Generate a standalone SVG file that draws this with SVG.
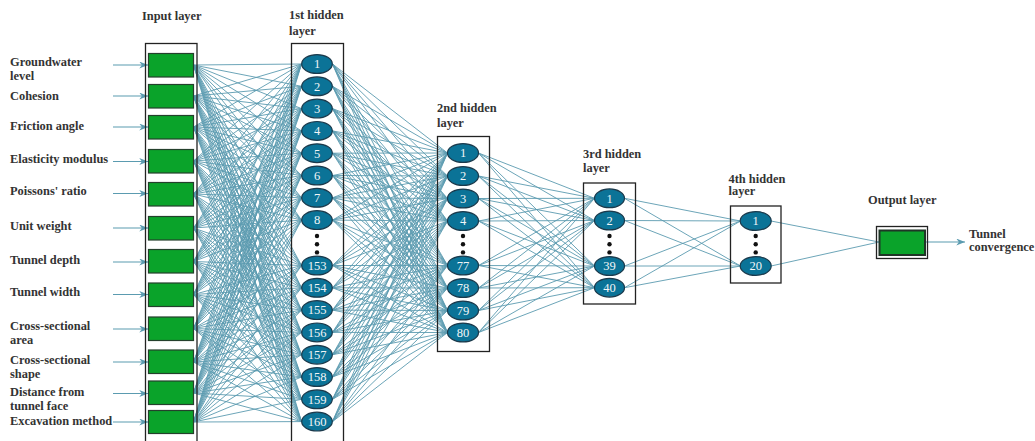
<svg xmlns="http://www.w3.org/2000/svg" width="1035" height="441" viewBox="0 0 1035 441">
  <style>
    .lbl { font-family: "Liberation Serif", "Times New Roman", serif; font-weight: bold; font-size: 12.4px; fill: #333; }
    .num { font-family: "Liberation Serif", "Times New Roman", serif; font-size: 12.5px; fill: #f2f6f8; text-anchor: middle; }
    .box { fill: none; stroke: #222; stroke-width: 1.3; }
    .inp { fill: #0aa32a; stroke: #24402c; stroke-width: 1.2; }
    .neuron { fill: #0b7397; stroke: #1b3a4c; stroke-width: 1.2; }
    .dot { fill: #111; }
    .edge { fill: none; stroke: #5b9bb0; stroke-width: 0.9; }
    .feed { fill: none; stroke: #5b9bb0; stroke-width: 1.2; marker-end: url(#head); }
  </style>
  <defs>
    <marker id="head" viewBox="0 0 10 8" refX="10" refY="4" markerWidth="9" markerHeight="7" markerUnits="userSpaceOnUse" orient="auto">
      <path d="M0 0L10 4L0 8L3 4Z" fill="#5b9bb0"/>
    </marker>
  </defs>
  <rect width="1035" height="441" fill="#fff"/>

  <!-- connections -->
  <g id="connectors">
    <!-- input layer -> 1st hidden layer -->
    <path class="edge" d="M193.5 65L301.5 64M193.5 65L301.5 86.3M193.5 65L301.5 108.6M193.5 65L301.5 130.9M193.5 65L301.5 153.2M193.5 65L301.5 175.5M193.5 65L301.5 197.8M193.5 65L301.5 220.1M193.5 65L301.5 265.5M193.5 65L301.5 287.8M193.5 65L301.5 310.1M193.5 65L301.5 332.4M193.5 65L301.5 354.7M193.5 65L301.5 377M193.5 65L301.5 399.3M193.5 65L301.5 421.6"/>
    <path class="edge" d="M193.5 96L301.5 64M193.5 96L301.5 86.3M193.5 96L301.5 108.6M193.5 96L301.5 130.9M193.5 96L301.5 153.2M193.5 96L301.5 175.5M193.5 96L301.5 197.8M193.5 96L301.5 220.1M193.5 96L301.5 265.5M193.5 96L301.5 287.8M193.5 96L301.5 310.1M193.5 96L301.5 332.4M193.5 96L301.5 354.7M193.5 96L301.5 377M193.5 96L301.5 399.3M193.5 96L301.5 421.6"/>
    <path class="edge" d="M193.5 127L301.5 64M193.5 127L301.5 86.3M193.5 127L301.5 108.6M193.5 127L301.5 130.9M193.5 127L301.5 153.2M193.5 127L301.5 175.5M193.5 127L301.5 197.8M193.5 127L301.5 220.1M193.5 127L301.5 265.5M193.5 127L301.5 287.8M193.5 127L301.5 310.1M193.5 127L301.5 332.4M193.5 127L301.5 354.7M193.5 127L301.5 377M193.5 127L301.5 399.3M193.5 127L301.5 421.6"/>
    <path class="edge" d="M193.5 161L301.5 64M193.5 161L301.5 86.3M193.5 161L301.5 108.6M193.5 161L301.5 130.9M193.5 161L301.5 153.2M193.5 161L301.5 175.5M193.5 161L301.5 197.8M193.5 161L301.5 220.1M193.5 161L301.5 265.5M193.5 161L301.5 287.8M193.5 161L301.5 310.1M193.5 161L301.5 332.4M193.5 161L301.5 354.7M193.5 161L301.5 377M193.5 161L301.5 399.3M193.5 161L301.5 421.6"/>
    <path class="edge" d="M193.5 194L301.5 64M193.5 194L301.5 86.3M193.5 194L301.5 108.6M193.5 194L301.5 130.9M193.5 194L301.5 153.2M193.5 194L301.5 175.5M193.5 194L301.5 197.8M193.5 194L301.5 220.1M193.5 194L301.5 265.5M193.5 194L301.5 287.8M193.5 194L301.5 310.1M193.5 194L301.5 332.4M193.5 194L301.5 354.7M193.5 194L301.5 377M193.5 194L301.5 399.3M193.5 194L301.5 421.6"/>
    <path class="edge" d="M193.5 228L301.5 64M193.5 228L301.5 86.3M193.5 228L301.5 108.6M193.5 228L301.5 130.9M193.5 228L301.5 153.2M193.5 228L301.5 175.5M193.5 228L301.5 197.8M193.5 228L301.5 220.1M193.5 228L301.5 265.5M193.5 228L301.5 287.8M193.5 228L301.5 310.1M193.5 228L301.5 332.4M193.5 228L301.5 354.7M193.5 228L301.5 377M193.5 228L301.5 399.3M193.5 228L301.5 421.6"/>
    <path class="edge" d="M193.5 261.5L301.5 64M193.5 261.5L301.5 86.3M193.5 261.5L301.5 108.6M193.5 261.5L301.5 130.9M193.5 261.5L301.5 153.2M193.5 261.5L301.5 175.5M193.5 261.5L301.5 197.8M193.5 261.5L301.5 220.1M193.5 261.5L301.5 265.5M193.5 261.5L301.5 287.8M193.5 261.5L301.5 310.1M193.5 261.5L301.5 332.4M193.5 261.5L301.5 354.7M193.5 261.5L301.5 377M193.5 261.5L301.5 399.3M193.5 261.5L301.5 421.6"/>
    <path class="edge" d="M193.5 294.5L301.5 64M193.5 294.5L301.5 86.3M193.5 294.5L301.5 108.6M193.5 294.5L301.5 130.9M193.5 294.5L301.5 153.2M193.5 294.5L301.5 175.5M193.5 294.5L301.5 197.8M193.5 294.5L301.5 220.1M193.5 294.5L301.5 265.5M193.5 294.5L301.5 287.8M193.5 294.5L301.5 310.1M193.5 294.5L301.5 332.4M193.5 294.5L301.5 354.7M193.5 294.5L301.5 377M193.5 294.5L301.5 399.3M193.5 294.5L301.5 421.6"/>
    <path class="edge" d="M193.5 328.5L301.5 64M193.5 328.5L301.5 86.3M193.5 328.5L301.5 108.6M193.5 328.5L301.5 130.9M193.5 328.5L301.5 153.2M193.5 328.5L301.5 175.5M193.5 328.5L301.5 197.8M193.5 328.5L301.5 220.1M193.5 328.5L301.5 265.5M193.5 328.5L301.5 287.8M193.5 328.5L301.5 310.1M193.5 328.5L301.5 332.4M193.5 328.5L301.5 354.7M193.5 328.5L301.5 377M193.5 328.5L301.5 399.3M193.5 328.5L301.5 421.6"/>
    <path class="edge" d="M193.5 362L301.5 64M193.5 362L301.5 86.3M193.5 362L301.5 108.6M193.5 362L301.5 130.9M193.5 362L301.5 153.2M193.5 362L301.5 175.5M193.5 362L301.5 197.8M193.5 362L301.5 220.1M193.5 362L301.5 265.5M193.5 362L301.5 287.8M193.5 362L301.5 310.1M193.5 362L301.5 332.4M193.5 362L301.5 354.7M193.5 362L301.5 377M193.5 362L301.5 399.3M193.5 362L301.5 421.6"/>
    <path class="edge" d="M193.5 393L301.5 64M193.5 393L301.5 86.3M193.5 393L301.5 108.6M193.5 393L301.5 130.9M193.5 393L301.5 153.2M193.5 393L301.5 175.5M193.5 393L301.5 197.8M193.5 393L301.5 220.1M193.5 393L301.5 265.5M193.5 393L301.5 287.8M193.5 393L301.5 310.1M193.5 393L301.5 332.4M193.5 393L301.5 354.7M193.5 393L301.5 377M193.5 393L301.5 399.3M193.5 393L301.5 421.6"/>
    <path class="edge" d="M193.5 422L301.5 64M193.5 422L301.5 86.3M193.5 422L301.5 108.6M193.5 422L301.5 130.9M193.5 422L301.5 153.2M193.5 422L301.5 175.5M193.5 422L301.5 197.8M193.5 422L301.5 220.1M193.5 422L301.5 265.5M193.5 422L301.5 287.8M193.5 422L301.5 310.1M193.5 422L301.5 332.4M193.5 422L301.5 354.7M193.5 422L301.5 377M193.5 422L301.5 399.3M193.5 422L301.5 421.6"/>

    <!-- 1st hidden -> 2nd hidden -->
    <path class="edge" d="M332.5 64L447.5 153M332.5 64L447.5 176M332.5 64L447.5 198.5M332.5 64L447.5 221M332.5 64L447.5 265.5M332.5 64L447.5 288M332.5 64L447.5 310.5M332.5 64L447.5 332.5"/>
    <path class="edge" d="M332.5 86.3L447.5 153M332.5 86.3L447.5 176M332.5 86.3L447.5 198.5M332.5 86.3L447.5 221M332.5 86.3L447.5 265.5M332.5 86.3L447.5 288M332.5 86.3L447.5 310.5M332.5 86.3L447.5 332.5"/>
    <path class="edge" d="M332.5 108.6L447.5 153M332.5 108.6L447.5 176M332.5 108.6L447.5 198.5M332.5 108.6L447.5 221M332.5 108.6L447.5 265.5M332.5 108.6L447.5 288M332.5 108.6L447.5 310.5M332.5 108.6L447.5 332.5"/>
    <path class="edge" d="M332.5 130.9L447.5 153M332.5 130.9L447.5 176M332.5 130.9L447.5 198.5M332.5 130.9L447.5 221M332.5 130.9L447.5 265.5M332.5 130.9L447.5 288M332.5 130.9L447.5 310.5M332.5 130.9L447.5 332.5"/>
    <path class="edge" d="M332.5 153.2L447.5 153M332.5 153.2L447.5 176M332.5 153.2L447.5 198.5M332.5 153.2L447.5 221M332.5 153.2L447.5 265.5M332.5 153.2L447.5 288M332.5 153.2L447.5 310.5M332.5 153.2L447.5 332.5"/>
    <path class="edge" d="M332.5 175.5L447.5 153M332.5 175.5L447.5 176M332.5 175.5L447.5 198.5M332.5 175.5L447.5 221M332.5 175.5L447.5 265.5M332.5 175.5L447.5 288M332.5 175.5L447.5 310.5M332.5 175.5L447.5 332.5"/>
    <path class="edge" d="M332.5 197.8L447.5 153M332.5 197.8L447.5 176M332.5 197.8L447.5 198.5M332.5 197.8L447.5 221M332.5 197.8L447.5 265.5M332.5 197.8L447.5 288M332.5 197.8L447.5 310.5M332.5 197.8L447.5 332.5"/>
    <path class="edge" d="M332.5 220.1L447.5 153M332.5 220.1L447.5 176M332.5 220.1L447.5 198.5M332.5 220.1L447.5 221M332.5 220.1L447.5 265.5M332.5 220.1L447.5 288M332.5 220.1L447.5 310.5M332.5 220.1L447.5 332.5"/>
    <path class="edge" d="M332.5 265.5L447.5 153M332.5 265.5L447.5 176M332.5 265.5L447.5 198.5M332.5 265.5L447.5 221M332.5 265.5L447.5 265.5M332.5 265.5L447.5 288M332.5 265.5L447.5 310.5M332.5 265.5L447.5 332.5"/>
    <path class="edge" d="M332.5 287.8L447.5 153M332.5 287.8L447.5 176M332.5 287.8L447.5 198.5M332.5 287.8L447.5 221M332.5 287.8L447.5 265.5M332.5 287.8L447.5 288M332.5 287.8L447.5 310.5M332.5 287.8L447.5 332.5"/>
    <path class="edge" d="M332.5 310.1L447.5 153M332.5 310.1L447.5 176M332.5 310.1L447.5 198.5M332.5 310.1L447.5 221M332.5 310.1L447.5 265.5M332.5 310.1L447.5 288M332.5 310.1L447.5 310.5M332.5 310.1L447.5 332.5"/>
    <path class="edge" d="M332.5 332.4L447.5 153M332.5 332.4L447.5 176M332.5 332.4L447.5 198.5M332.5 332.4L447.5 221M332.5 332.4L447.5 265.5M332.5 332.4L447.5 288M332.5 332.4L447.5 310.5M332.5 332.4L447.5 332.5"/>
    <path class="edge" d="M332.5 354.7L447.5 153M332.5 354.7L447.5 176M332.5 354.7L447.5 198.5M332.5 354.7L447.5 221M332.5 354.7L447.5 265.5M332.5 354.7L447.5 288M332.5 354.7L447.5 310.5M332.5 354.7L447.5 332.5"/>
    <path class="edge" d="M332.5 377L447.5 153M332.5 377L447.5 176M332.5 377L447.5 198.5M332.5 377L447.5 221M332.5 377L447.5 265.5M332.5 377L447.5 288M332.5 377L447.5 310.5M332.5 377L447.5 332.5"/>
    <path class="edge" d="M332.5 399.3L447.5 153M332.5 399.3L447.5 176M332.5 399.3L447.5 198.5M332.5 399.3L447.5 221M332.5 399.3L447.5 265.5M332.5 399.3L447.5 288M332.5 399.3L447.5 310.5M332.5 399.3L447.5 332.5"/>
    <path class="edge" d="M332.5 421.6L447.5 153M332.5 421.6L447.5 176M332.5 421.6L447.5 198.5M332.5 421.6L447.5 221M332.5 421.6L447.5 265.5M332.5 421.6L447.5 288M332.5 421.6L447.5 310.5M332.5 421.6L447.5 332.5"/>

    <!-- 2nd hidden -> 3rd hidden -->
    <path class="edge" d="M478.5 153L594.5 198.3M478.5 153L594.5 220.5M478.5 153L594.5 266M478.5 153L594.5 287.7"/>
    <path class="edge" d="M478.5 176L594.5 198.3M478.5 176L594.5 220.5M478.5 176L594.5 266M478.5 176L594.5 287.7"/>
    <path class="edge" d="M478.5 198.5L594.5 198.3M478.5 198.5L594.5 220.5M478.5 198.5L594.5 266M478.5 198.5L594.5 287.7"/>
    <path class="edge" d="M478.5 221L594.5 198.3M478.5 221L594.5 220.5M478.5 221L594.5 266M478.5 221L594.5 287.7"/>
    <path class="edge" d="M478.5 265.5L594.5 198.3M478.5 265.5L594.5 220.5M478.5 265.5L594.5 266M478.5 265.5L594.5 287.7"/>
    <path class="edge" d="M478.5 288L594.5 198.3M478.5 288L594.5 220.5M478.5 288L594.5 266M478.5 288L594.5 287.7"/>
    <path class="edge" d="M478.5 310.5L594.5 198.3M478.5 310.5L594.5 220.5M478.5 310.5L594.5 266M478.5 310.5L594.5 287.7"/>
    <path class="edge" d="M478.5 332.5L594.5 198.3M478.5 332.5L594.5 220.5M478.5 332.5L594.5 266M478.5 332.5L594.5 287.7"/>

    <!-- 3rd hidden -> 4th hidden -->
    <path class="edge" d="M624.5 198.3L740.5 221M624.5 198.3L740.5 266M624.5 220.5L740.5 221M624.5 220.5L740.5 266M624.5 266L740.5 221M624.5 266L740.5 266M624.5 287.7L740.5 221M624.5 287.7L740.5 266"/>

    <!-- 4th hidden -> output -->
    <path class="edge" d="M771 221L879 242M771 266L879 242"/>

    <!-- feature inputs -->
    <path class="feed" d="M113 65H148"/>
    <path class="feed" d="M113 96H148"/>
    <path class="feed" d="M113 127H148"/>
    <path class="feed" d="M113 161.5H148"/>
    <path class="feed" d="M113 193.5H148"/>
    <path class="feed" d="M113 228H148"/>
    <path class="feed" d="M113 262H148"/>
    <path class="feed" d="M113 294.5H148"/>
    <path class="feed" d="M113 329H148"/>
    <path class="feed" d="M113 362H148"/>
    <path class="feed" d="M113 393.5H148"/>
    <path class="feed" d="M113 422H148"/>

    <!-- prediction -->
    <path class="feed" d="M925 242H965"/>
  </g>

  <!-- input layer -->
  <g id="input-layer">
    <text class="lbl" x="142" y="19.5">Input layer</text>
    <rect class="box" x="145.5" y="43.5" width="51.5" height="400"/>
    <rect class="inp" x="148.5" y="53.5" width="45" height="23.5"/>
    <rect class="inp" x="148.5" y="84.5" width="45" height="23.5"/>
    <rect class="inp" x="148.5" y="115.5" width="45" height="23.5"/>
    <rect class="inp" x="148.5" y="149.5" width="45" height="23.5"/>
    <rect class="inp" x="148.5" y="182.5" width="45" height="23.5"/>
    <rect class="inp" x="148.5" y="216.5" width="45" height="23.5"/>
    <rect class="inp" x="148.5" y="249.5" width="45" height="23.5"/>
    <rect class="inp" x="148.5" y="283" width="45" height="23.5"/>
    <rect class="inp" x="148.5" y="317" width="45" height="23.5"/>
    <rect class="inp" x="148.5" y="350" width="45" height="23.5"/>
    <rect class="inp" x="148.5" y="381" width="45" height="23.5"/>
    <rect class="inp" x="148.5" y="410.5" width="45" height="23"/>
  </g>

  <!-- input feature names -->
  <g id="feature-labels">
    <text class="lbl" x="10" y="66">Groundwater</text>
    <text class="lbl" x="10" y="79.5">level</text>
    <text class="lbl" x="10" y="100">Cohesion</text>
    <text class="lbl" x="10" y="130">Friction angle</text>
    <text class="lbl" x="10" y="163">Elasticity modulus</text>
    <text class="lbl" x="10" y="194.5">Poissons' ratio</text>
    <text class="lbl" x="10" y="230">Unit weight</text>
    <text class="lbl" x="10" y="263.5">Tunnel depth</text>
    <text class="lbl" x="10" y="296">Tunnel width</text>
    <text class="lbl" x="10" y="330">Cross-sectional</text>
    <text class="lbl" x="10" y="344">area</text>
    <text class="lbl" x="10" y="364">Cross-sectional</text>
    <text class="lbl" x="10" y="377.5">shape</text>
    <text class="lbl" x="10" y="395.5">Distance from</text>
    <text class="lbl" x="10" y="409.5">tunnel face</text>
    <text class="lbl" x="10" y="424.5">Excavation method</text>
  </g>

  <!-- 1st hidden layer (160 neurons) -->
  <g id="hidden-1">
    <text class="lbl" x="289" y="19">1st hidden</text>
    <text class="lbl" x="289" y="34.5">layer</text>
    <rect class="box" x="291.5" y="43.5" width="52" height="400"/>
    <ellipse class="neuron" cx="317" cy="64" rx="15.3" ry="9.4"/><text class="num" x="317" y="68.3">1</text>
    <ellipse class="neuron" cx="317" cy="86.3" rx="15.3" ry="9.4"/><text class="num" x="317" y="90.6">2</text>
    <ellipse class="neuron" cx="317" cy="108.6" rx="15.3" ry="9.4"/><text class="num" x="317" y="112.9">3</text>
    <ellipse class="neuron" cx="317" cy="130.9" rx="15.3" ry="9.4"/><text class="num" x="317" y="135.2">4</text>
    <ellipse class="neuron" cx="317" cy="153.2" rx="15.3" ry="9.4"/><text class="num" x="317" y="157.5">5</text>
    <ellipse class="neuron" cx="317" cy="175.5" rx="15.3" ry="9.4"/><text class="num" x="317" y="179.8">6</text>
    <ellipse class="neuron" cx="317" cy="197.8" rx="15.3" ry="9.4"/><text class="num" x="317" y="202.1">7</text>
    <ellipse class="neuron" cx="317" cy="220.1" rx="15.3" ry="9.4"/><text class="num" x="317" y="224.4">8</text>
    <circle class="dot" cx="317" cy="236" r="2.2"/>
    <circle class="dot" cx="317" cy="244.2" r="2.2"/>
    <circle class="dot" cx="317" cy="252.4" r="2.2"/>
    <ellipse class="neuron" cx="317" cy="265.5" rx="15.3" ry="9.4"/><text class="num" x="317" y="269.8">153</text>
    <ellipse class="neuron" cx="317" cy="287.8" rx="15.3" ry="9.4"/><text class="num" x="317" y="292.1">154</text>
    <ellipse class="neuron" cx="317" cy="310.1" rx="15.3" ry="9.4"/><text class="num" x="317" y="314.4">155</text>
    <ellipse class="neuron" cx="317" cy="332.4" rx="15.3" ry="9.4"/><text class="num" x="317" y="336.7">156</text>
    <ellipse class="neuron" cx="317" cy="354.7" rx="15.3" ry="9.4"/><text class="num" x="317" y="359">157</text>
    <ellipse class="neuron" cx="317" cy="377" rx="15.3" ry="9.4"/><text class="num" x="317" y="381.3">158</text>
    <ellipse class="neuron" cx="317" cy="399.3" rx="15.3" ry="9.4"/><text class="num" x="317" y="403.6">159</text>
    <ellipse class="neuron" cx="317" cy="421.6" rx="15.3" ry="9.4"/><text class="num" x="317" y="425.9">160</text>
  </g>

  <!-- 2nd hidden layer (80 neurons) -->
  <g id="hidden-2">
    <text class="lbl" x="437" y="112">2nd hidden</text>
    <text class="lbl" x="437" y="126.5">layer</text>
    <rect class="box" x="437.5" y="136.5" width="52" height="215"/>
    <ellipse class="neuron" cx="463" cy="153" rx="15.5" ry="9.4"/><text class="num" x="463" y="157.3">1</text>
    <ellipse class="neuron" cx="463" cy="176" rx="15.5" ry="9.4"/><text class="num" x="463" y="180.3">2</text>
    <ellipse class="neuron" cx="463" cy="198.5" rx="15.5" ry="9.4"/><text class="num" x="463" y="202.8">3</text>
    <ellipse class="neuron" cx="463" cy="221" rx="15.5" ry="9.4"/><text class="num" x="463" y="225.3">4</text>
    <circle class="dot" cx="463" cy="236" r="2.2"/>
    <circle class="dot" cx="463" cy="244.2" r="2.2"/>
    <circle class="dot" cx="463" cy="252.4" r="2.2"/>
    <ellipse class="neuron" cx="463" cy="265.5" rx="15.5" ry="9.4"/><text class="num" x="463" y="269.8">77</text>
    <ellipse class="neuron" cx="463" cy="288" rx="15.5" ry="9.4"/><text class="num" x="463" y="292.3">78</text>
    <ellipse class="neuron" cx="463" cy="310.5" rx="15.5" ry="9.4"/><text class="num" x="463" y="314.8">79</text>
    <ellipse class="neuron" cx="463" cy="332.5" rx="15.5" ry="9.4"/><text class="num" x="463" y="336.8">80</text>
  </g>

  <!-- 3rd hidden layer (40 neurons) -->
  <g id="hidden-3">
    <text class="lbl" x="583" y="157.5">3rd hidden</text>
    <text class="lbl" x="583" y="172">layer</text>
    <rect class="box" x="583.5" y="183" width="52" height="121"/>
    <ellipse class="neuron" cx="609.5" cy="198.3" rx="15" ry="9.4"/><text class="num" x="609.5" y="202.6">1</text>
    <ellipse class="neuron" cx="609.5" cy="220.5" rx="15" ry="9.4"/><text class="num" x="609.5" y="224.8">2</text>
    <circle class="dot" cx="609.5" cy="236" r="2.2"/>
    <circle class="dot" cx="609.5" cy="244.2" r="2.2"/>
    <circle class="dot" cx="609.5" cy="252.4" r="2.2"/>
    <ellipse class="neuron" cx="609.5" cy="266" rx="15" ry="9.4"/><text class="num" x="609.5" y="270.3">39</text>
    <ellipse class="neuron" cx="609.5" cy="287.7" rx="15" ry="9.4"/><text class="num" x="609.5" y="292">40</text>
  </g>

  <!-- 4th hidden layer (20 neurons) -->
  <g id="hidden-4">
    <text class="lbl" x="728.5" y="182.5">4th hidden</text>
    <text class="lbl" x="728.5" y="194.5">layer</text>
    <rect class="box" x="730.5" y="206" width="50.5" height="77"/>
    <ellipse class="neuron" cx="755.7" cy="221" rx="15.5" ry="9.4"/><text class="num" x="755.7" y="225.3">1</text>
    <circle class="dot" cx="755.7" cy="236" r="2.2"/>
    <circle class="dot" cx="755.7" cy="244.2" r="2.2"/>
    <circle class="dot" cx="755.7" cy="252.4" r="2.2"/>
    <ellipse class="neuron" cx="755.7" cy="266" rx="15.5" ry="9.4"/><text class="num" x="755.7" y="270.3">20</text>
  </g>

  <!-- output layer -->
  <g id="output-layer">
    <text class="lbl" x="868" y="203.5">Output layer</text>
    <rect class="box" x="876.5" y="226.5" width="51" height="32"/>
    <rect x="879.5" y="230.5" width="45.5" height="24.5" fill="#0aa32a" stroke="#1f3526" stroke-width="2"/>
  </g>

  <!-- predicted quantity -->
  <g id="target-label">
    <text class="lbl" x="969" y="237.5">Tunnel</text>
    <text class="lbl" x="969" y="251">convergence</text>
  </g>
</svg>
